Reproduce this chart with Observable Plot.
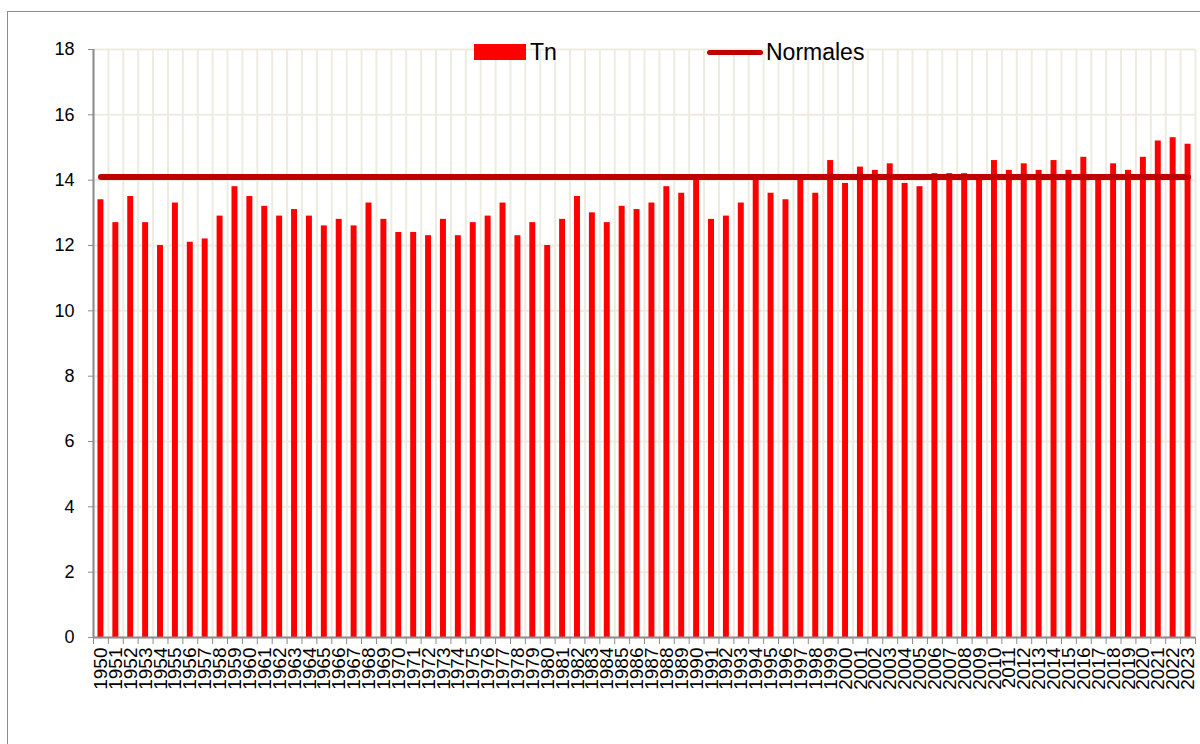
<!DOCTYPE html>
<html>
<head>
<meta charset="utf-8">
<script src="https://cdn.jsdelivr.net/npm/d3@7"></script>
<script src="https://cdn.jsdelivr.net/npm/@observablehq/plot@0.6"></script>
<style>
  html, body { margin: 0; padding: 0; background: #fff; overflow: hidden; }
  #wrap { position: relative; width: 1200px; height: 744px; font-family: "Liberation Sans", Arial, sans-serif; }
  #frame { position: absolute; left: 7px; top: 11px; width: 1300px; height: 900px; border: 1.5px solid #8c8c8c; box-sizing: border-box; pointer-events: none; }
  #chart { position: absolute; left: 0; top: 0; }
  .leg { position: absolute; font-size: 23px; color: #000; line-height: 1; }
  .sw-bar { position: absolute; background: #FF0000; }
  .sw-line { position: absolute; background: #C00000; border-radius: 3px; }
</style>
</head>
<body>
<div id="wrap">
  <div id="chart"></div>
  <div id="frame"></div>
  <div class="sw-bar" style="left:474px; top:44px; width:52px; height:16px;"></div>
  <div class="leg" style="left:530px; top:41px;">Tn</div>
  <div class="sw-line" style="left:707px; top:50px; width:56px; height:5px;"></div>
  <div class="leg" style="left:766px; top:41px;">Normales</div>
</div>
<script>
const years = d3.range(1950, 2024);
const tn = [
  13.4, 12.7, 13.5, 12.7, 12.0, 13.3, 12.1, 12.2, 12.9, 13.8,
  13.5, 13.2, 12.9, 13.1, 12.9, 12.6, 12.8, 12.6, 13.3, 12.8,
  12.4, 12.4, 12.3, 12.8, 12.3, 12.7, 12.9, 13.3, 12.3, 12.7,
  12.0, 12.8, 13.5, 13.0, 12.7, 13.2, 13.1, 13.3, 13.8, 13.6,
  14.0, 12.8, 12.9, 13.3, 14.1, 13.6, 13.4, 14.0, 13.6, 14.6,
  13.9, 14.4, 14.3, 14.5, 13.9, 13.8, 14.2, 14.2, 14.2, 14.0,
  14.6, 14.3, 14.5, 14.3, 14.6, 14.3, 14.7, 14.0, 14.5, 14.3,
  14.7, 15.2, 15.3, 15.1
];
const normale = 14.1;
const yTicks = [0, 2, 4, 6, 8, 10, 12, 14, 16, 18];

const data = years.map((y, i) => ({year: y, tn: tn[i], normale}));
const bounds = years.map(y => y - 0.5).concat([years[years.length - 1] + 0.5]);

const grid = "#EEEBE0";
const axisGray = "#8c8c8c";

const chart = Plot.plot({
  width: 1200,
  height: 744,
  marginLeft: 93,
  marginRight: 5,
  marginTop: 49,
  marginBottom: 107,
  style: {fontFamily: "'Liberation Sans', Arial, sans-serif", color: "#000", background: "transparent"},
  x: {type: "linear", domain: [bounds[0], bounds[bounds.length - 1]], label: null},
  y: {domain: [0, 18], label: null},
  marks: [
    Plot.ruleY(yTicks, {stroke: grid, strokeWidth: 2}),
    Plot.ruleX(bounds, {y1: 0, y2: 18, stroke: grid, strokeWidth: 2}),
    Plot.rectY(data, {x1: d => d.year - 0.2, x2: d => d.year + 0.2, y1: 0, y2: "tn", fill: "#FF0000"}),
    Plot.lineY(data, {x: "year", y: "normale", stroke: "#C00000", strokeWidth: 6, strokeLinecap: "round"}),
    Plot.ruleX([bounds[0]], {y1: 0, y2: 18, stroke: axisGray, strokeWidth: 2}),
    Plot.ruleY([0], {stroke: axisGray, strokeWidth: 2}),
    Plot.axisY({ticks: yTicks, tickSize: 5, tickPadding: 14, fontSize: 18, stroke: axisGray, fill: "#000", label: null, tickFormat: d => String(d)}),
    Plot.axisX({ticks: bounds, tickSize: 7, tickFormat: () => "", stroke: axisGray, label: null}),
    Plot.axisX({ticks: years, tickSize: 0, tickPadding: 10, tickRotate: -90, fontSize: 19, fill: "#000", label: null, tickFormat: d => String(d)})
  ]
});
document.getElementById("chart").appendChild(chart);
</script>
</body>
</html>
